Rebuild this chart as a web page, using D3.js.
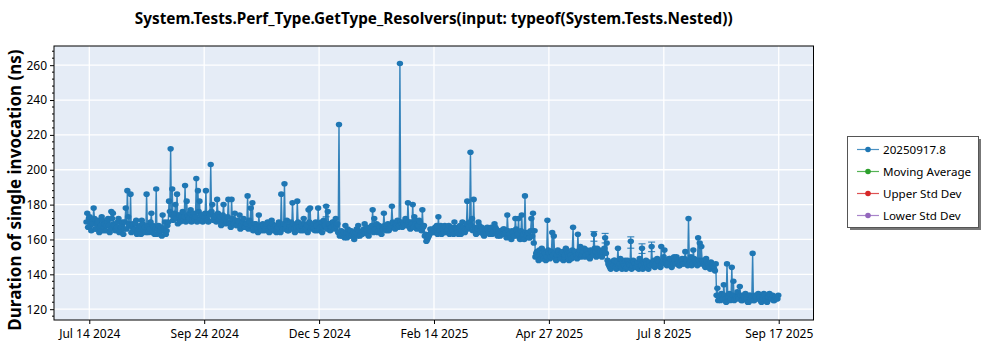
<!DOCTYPE html>
<html><head><meta charset="utf-8">
<script src="https://cdn.jsdelivr.net/npm/d3@7/dist/d3.min.js"></script>
<style>html,body{margin:0;padding:0;background:#fff;}svg{display:block;font-family:"Noto Sans","Open Sans",sans-serif;}</style>
</head><body><svg id="chart" width="1000" height="350"></svg>
<script>
// ---- data: two runs per day (midday run "a", midnight run "b"), grouped by month (ns) ----
const jul2024 = [175,172,168,170,178,166,169,171,167,173,165,169,168,172,164,176,175,168,166];
const aug2024 = [170,164,167,170,166,178,188,169,186,167,165,169,163,166,168,171,165,167,186,164,166,175,168,163,189,166,164,167,174,165,163];
const sep2024 = [168,182,212,189,173,180,186,174,170,173,172,191,182,171,175,170,173,172,195,188,182,174,170,173,188,171,175,203,180,172];
const oct2024 = [174,183,171,173,169,180,172,170,183,169,183,169,175,168,171,174,168,170,167,169,185,171,178,181,167,169,166,174,167,165,168];
const nov2024 = [166,169,165,167,171,166,168,164,167,169,186,166,192,168,165,167,170,181,166,168,182,167,165,169,172,166,168,177,178,167];
const dec2024 = [169,165,168,178,166,170,167,168,179,176,169,167,170,168,172,169,226,163,162,164,168,161,163,165,162,164,163,166,168,162,164];
const jan2025 = [165,169,166,163,165,167,177,172,166,164,168,165,167,175,166,168,165,167,179,169,166,168,167,261,169,170,168,171,181,167,170];
const feb2025 = [180,173,169,168,171,166,177,168,163,160,162,166,164,165,167,168,173,165,163,166,168,164,166,163,167,165,170,166];
const mar2025 = [164,167,163,170,165,166,182,167,210,172,183,166,164,170,165,167,163,166,164,165,163,167,164,169,166,162,164,165,163,166,164];
const apr2025 = [174,163,161,165,162,172,165,172,160,174,163,185,162,164,161,172,175,165,152,150,154,149,151,153,148,171,152,150,164,162];
const may2025 = [149,151,153,150,152,148,151,154,150,152,149,167,153,151,163,154,150,152,155,151,153,150,154,152,163,153,155,151,153,150,154];
const jun2025 = [161,158,146,144,147,145,148,143,155,146,144,147,145,143,148,146,159,145,147,144,146,143,145,155,147,144,146,143,145,156];
const jul2025 = [147,144,146,148,145,156,147,154,148,146,149,145,147,150,146,148,145,147,149,146,153,148,172,147,145,154,148,146,161,158,156];
const aug2025 = [147,145,149,146,144,147,145,143,146,132,127,125,128,134,126,146,127,125,144,136,128,126,127,133,125,128,126,127,124,128,126];
const sep2025 = [152,125,127,128,126,125,127,129,126,124,127,128,126,125,127,126,128];

const jul2024b = [170,167,173,165,169,172,166,170,164,168,171,167,165,170,168,166,172,169,165];
const aug2024b = [167,172,165,168,163,170,166,173,168,164,169,166,171,165,167,163,169,166,164,168,165,170,164,167,166,163,168,165,162,166,170];
const sep2024b = [165,170,176,174,171,175,172,169,174,171,176,173,170,174,172,177,171,175,173,170,176,172,174,171,175,172,170,174,176,171];
const oct2024b = [173,170,175,172,168,174,171,169,173,170,167,172,169,171,168,170,166,169,172,167,169,166,170,168,165,169,167,164,168,166,169];
const nov2024b = [165,168,170,164,167,169,165,168,166,170,164,167,169,166,171,165,168,166,169,164,167,170,166,168,165,169,167,164,170,166];
const dec2024b = [168,166,170,165,169,167,164,171,168,166,169,165,167,170,166,168,164,162,165,163,161,164,166,162,165,163,160,164,162,165,163];
const jan2025b = [163,166,164,167,162,165,168,164,166,169,165,167,163,166,168,165,169,166,168,170,167,169,171,168,170,167,169,172,168,170,166];
const feb2025b = [169,167,171,166,168,170,165,167,162,159,161,163,165,166,164,167,163,165,168,166,164,167,165,168,164,166,163,167];
const mar2025b = [166,163,168,165,167,164,169,166,170,168,165,167,163,166,168,164,166,162,165,167,164,166,163,165,167,163,165,162,164,166,163];
const apr2025b = [161,165,163,160,164,162,166,163,161,165,162,160,164,163,161,165,162,158,150,153,148,151,155,149,152,150,154,149,153,151];
const may2025b = [152,148,154,151,149,153,150,155,152,148,151,154,150,153,149,152,156,151,153,150,154,152,149,153,151,155,150,152,154,151,153];
const jun2025b = [155,152,148,145,143,146,148,144,147,145,149,143,146,148,144,147,145,143,148,146,144,147,149,145,143,146,148,144,147,145];
const jul2025b = [146,148,145,149,147,144,146,150,148,145,147,149,144,146,148,150,147,145,148,146,149,147,145,148,150,146,149,147,145,148,146];
const aug2025b = [148,146,144,147,145,143,146,144,142,128,125,127,129,126,128,124,127,129,126,128,125,127,130,126,128,125,127,129,126,124,128];
const sep2025b = [127,125,128,126,129,127,124,126,128,125,127,129,126,128,125,127,126];

const monthStarts = ["2024-07-13","2024-08-01","2024-09-01","2024-10-01","2024-11-01","2024-12-01",
  "2025-01-01","2025-02-01","2025-03-01","2025-04-01","2025-05-01","2025-06-01","2025-07-01","2025-08-01","2025-09-01"];
const monthValuesA = [jul2024,aug2024,sep2024,oct2024,nov2024,dec2024,jan2025,feb2025,mar2025,apr2025,may2025,jun2025,jul2025,aug2025,sep2025];
const monthValuesB = [jul2024b,aug2024b,sep2024b,oct2024b,nov2024b,dec2024b,jan2025b,feb2025b,mar2025b,apr2025b,may2025b,jun2025b,jul2025b,aug2025b,sep2025b];

// visible error bars: [date, low, high]
const errorBars = [["2024-12-09",173,179.5],["2025-05-25",159,164.5],["2025-06-01",158,163.5],
  ["2025-06-17",155,161.5],["2025-06-24",152,157.5],["2025-06-30",153,158.5]];

const xTickTimes = ["2024-07-14T19:12","2024-09-24T11:12","2024-12-05T03:12","2025-02-14T19:12",
  "2025-04-27T11:12","2025-07-08T03:12","2025-09-17T19:12"];
const xTickLabels = ["Jul 14 2024","Sep 24 2024","Dec 5 2024","Feb 14 2025","Apr 27 2025","Jul 8 2025","Sep 17 2025"];
const yTicks = [120,140,160,180,200,220,240,260];
const xDomain = ["2024-06-22T19:00","2025-10-09T12:00"];
const yDomain = [113.8, 271.0];

const titleText = "System.Tests.Perf_Type.GetType_Resolvers(input: typeof(System.Tests.Nested))";
const yLabelText = "Duration of single invocation (ns)";
const legendItems = ["20250917.8","Moving Average","Upper Std Dev","Lower Std Dev"];
const legendColors = ["#1f77b4","#2ca02c","#d62728","#9467bd"];

// ---- build ----
const parseDay = d3.utcParse("%Y-%m-%d");
const parseTime = d3.utcParse("%Y-%m-%dT%H:%M");
const points = [];
monthStarts.forEach((s, m) => {
  const start = parseDay(s);
  monthValuesB[m].forEach((v, i) => points.push({date: d3.utcHour.offset(d3.utcDay.offset(start, i), 1), value: v}));
  monthValuesA[m].forEach((v, i) => points.push({date: d3.utcHour.offset(d3.utcDay.offset(start, i), 13), value: v}));
});
points.sort((a, b) => a.date - b.date);

const L = 54, R = 813.5, T = 46, B = 320;
const svg = d3.select("#chart");
const x = d3.scaleUtc().domain(xDomain.map(parseTime)).range([L, R]);
const y = d3.scaleLinear().domain(yDomain).range([B, T]);
const blue = "#1f77b4";

svg.append("rect").attr("x", L).attr("y", T).attr("width", R - L).attr("height", B - T).attr("fill", "#e5ecf6");

const tickDates = xTickTimes.map(parseTime);
svg.append("g").selectAll("line").data(yTicks).join("line")
  .attr("x1", L).attr("x2", R).attr("y1", d => y(d)).attr("y2", d => y(d))
  .attr("stroke", "#fff").attr("stroke-width", 1.3);
svg.append("g").selectAll("line").data(tickDates).join("line")
  .attr("y1", T).attr("y2", B).attr("x1", d => x(d)).attr("x2", d => x(d))
  .attr("stroke", "#fff").attr("stroke-width", 1.3);

const plot = svg.append("g");
const eb = plot.append("g").attr("stroke", blue).attr("stroke-width", 1);
errorBars.forEach(([ds, lo, hi]) => {
  const cx = x(d3.utcHour.offset(parseDay(ds), 13));
  eb.append("line").attr("x1", cx).attr("x2", cx).attr("y1", y(lo)).attr("y2", y(hi));
  eb.append("line").attr("x1", cx - 3.5).attr("x2", cx + 3.5).attr("y1", y(hi)).attr("y2", y(hi));
  eb.append("line").attr("x1", cx - 3.5).attr("x2", cx + 3.5).attr("y1", y(lo)).attr("y2", y(lo));
});
plot.append("path").datum(points)
  .attr("d", d3.line().x(d => x(d.date)).y(d => y(d.value)))
  .attr("fill", "none").attr("stroke", blue).attr("stroke-width", 1.4).attr("stroke-opacity", 0.9);
plot.append("g").selectAll("ellipse").data(points).join("ellipse")
  .attr("cx", d => x(d.date)).attr("cy", d => y(d.value)).attr("rx", 3.2).attr("ry", 2.8)
  .attr("fill", blue);

svg.append("rect").attr("x", L).attr("y", T).attr("width", R - L).attr("height", B - T)
  .attr("fill", "none").attr("stroke", "#000").attr("stroke-width", 1);

const yAxis = svg.append("g").attr("transform", `translate(${L},0)`)
  .call(d3.axisLeft(y).tickValues(yTicks).tickSize(4).tickPadding(3));
const minor = d3.range(116, 272, 4).filter(v => v % 20 !== 0);
svg.append("g").selectAll("line").data(minor).join("line")
  .attr("x1", L - 2).attr("x2", L).attr("y1", d => y(d)).attr("y2", d => y(d)).attr("stroke", "#000");
const xAxis = svg.append("g").attr("transform", `translate(0,${B})`)
  .call(d3.axisBottom(x).tickValues(tickDates).tickFormat((d, i) => xTickLabels[i]).tickSize(4).tickPadding(5));
[yAxis, xAxis].forEach(a => {
  a.select(".domain").remove();
  a.selectAll("text").attr("font-size", 12).attr("fill", "#000").attr("font-family", '"Noto Sans","Open Sans",sans-serif');
  a.selectAll("line").attr("stroke", "#000");
});

svg.append("text").attr("x", (L + R) / 2).attr("y", 24).attr("text-anchor", "middle")
  .attr("font-size", 15.3).attr("font-weight", "bold").text(titleText);
svg.append("text").attr("transform", "translate(21,190) rotate(-90)").attr("text-anchor", "middle")
  .attr("font-size", 17).attr("font-weight", "bold").text(yLabelText);

const lg = svg.append("g");
lg.append("rect").attr("x", 850).attr("y", 139).attr("width", 131).attr("height", 91).attr("fill", "#777");
lg.append("rect").attr("x", 847.5).attr("y", 136.5).attr("width", 131).attr("height", 91)
  .attr("fill", "#fff").attr("stroke", "#555").attr("stroke-width", 1);
legendItems.forEach((t, i) => {
  const cy = 149.5 + i * 22;
  lg.append("line").attr("x1", 857).attr("x2", 879).attr("y1", cy).attr("y2", cy)
    .attr("stroke", legendColors[i]).attr("stroke-width", 1.2).attr("stroke-opacity", 0.8);
  lg.append("circle").attr("cx", 868).attr("cy", cy).attr("r", 2.8).attr("fill", legendColors[i]);
  lg.append("text").attr("x", 883).attr("y", cy + 4).attr("font-size", 11.6).attr("fill", "#000").text(t);
});
</script></body></html>
